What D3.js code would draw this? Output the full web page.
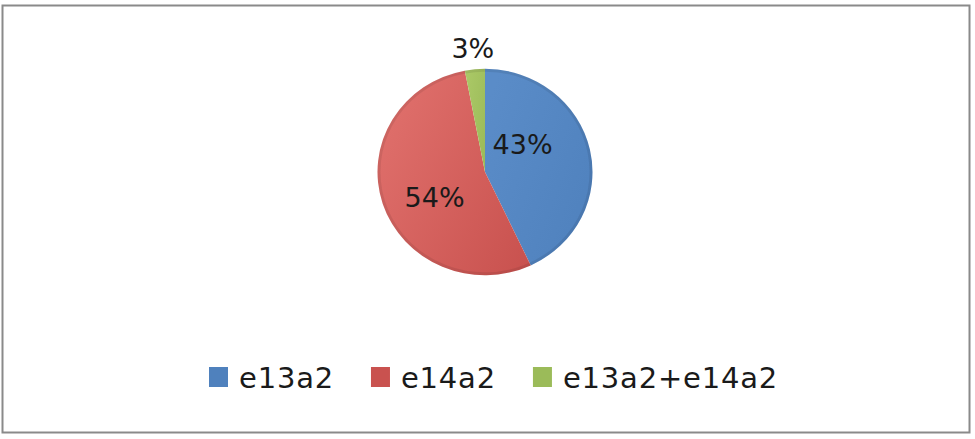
<!DOCTYPE html>
<html>
<head>
<meta charset="utf-8">
<script src="https://cdn.jsdelivr.net/npm/d3@7"></script>
<style>
  html, body { margin: 0; padding: 0; background: #fff; }
  svg { display: block; }
</style>
</head>
<body>
<script>
// chart data
const categories = ['e13a2', 'e14a2', 'e13a2+e14a2']
const values = [43, 54, 3]
const labels = ['43%', '54%', '3%']

let width = 975
let height = 439

const colors = ['#4f81bd', '#c9524f', '#9bbb59']
const lightColors = ['#5a8cc8', '#e0706c', '#aac866']

const svg = d3.select('body').append('svg')
  .attr('width', width).attr('height', height)

// outer frame
svg.append('rect')
  .attr('x', 2.5).attr('y', 5.5)
  .attr('width', 967).attr('height', 427)
  .attr('fill', '#fff')
  .attr('stroke', '#8a8a8a')
  .attr('stroke-width', 2)

const defs = svg.append('defs')
colors.forEach((c, i) => {
  let g = defs.append('linearGradient')
    .attr('id', 'grad' + i)
    .attr('x1', '0%').attr('y1', '20%')
    .attr('x2', '100%').attr('y2', '90%')
  g.append('stop').attr('offset', '0%').attr('stop-color', lightColors[i])
  g.append('stop').attr('offset', '100%').attr('stop-color', c)
})

const cx = 485
const cy = 172
const radius = 107.5

const pie = d3.pie().sort(null).value(d => d)
const arcs = pie(values)
const arc = d3.arc().innerRadius(0).outerRadius(radius)

const pieG = svg.append('g')
  .attr('transform', `translate(${cx},${cy}) scale(1,0.96)`)

pieG.selectAll('path')
  .data(arcs)
  .enter()
  .append('path')
  .attr('d', arc)
  .attr('fill', (d, i) => `url(#grad${i})`)

// darker rim like the excel shading
pieG.append('circle')
  .attr('r', radius - 1.5)
  .attr('fill', 'none')
  .attr('stroke', 'rgba(0,0,0,0.08)')
  .attr('stroke-width', 3)

// labels: small slices go outside, big ones inside (best fit)
const labelPos = (d) => {
  let share = (d.endAngle - d.startAngle) / (2 * Math.PI)
  let r, f
  if (share < 0.1) { r = radius * 1.2; f = 0.5 }
  else if (share < 0.5) { r = radius * 0.44; f = 0.34 }
  else { r = radius * 0.53; f = 0.45 }
  let a = d.startAngle + (d.endAngle - d.startAngle) * f
  return [cx + r * Math.sin(a), cy - r * Math.cos(a) * 0.96]
}

svg.selectAll('.label')
  .data(arcs)
  .enter()
  .append('text')
  .attr('class', 'label')
  .attr('x', d => labelPos(d)[0])
  .attr('y', d => labelPos(d)[1])
  .attr('dy', '0.36em')
  .attr('text-anchor', 'middle')
  .style('font-family', 'DejaVu Sans, Verdana, sans-serif')
  .style('font-size', '27px')
  .style('fill', '#1a1a1a')
  .text((d, i) => labels[i])

// legend
const legend = svg.append('g').attr('id', 'legend')

let lx = 209
categories.forEach((cat, i) => {
  let item = legend.append('g').attr('transform', `translate(${lx},367)`)
  item.append('rect')
    .attr('width', 19).attr('height', 20)
    .attr('fill', colors[i])
  let t = item.append('text')
    .attr('x', 30).attr('y', 21)
    .style('font-family', 'DejaVu Sans, Verdana, sans-serif')
    .style('font-size', '29px')
    .style('letter-spacing', '0.8px')
    .style('fill', '#1a1a1a')
    .text(cat)
  let w = t.node().getComputedTextLength()
  lx += 30 + w + 37
})
</script>
</body>
</html>
